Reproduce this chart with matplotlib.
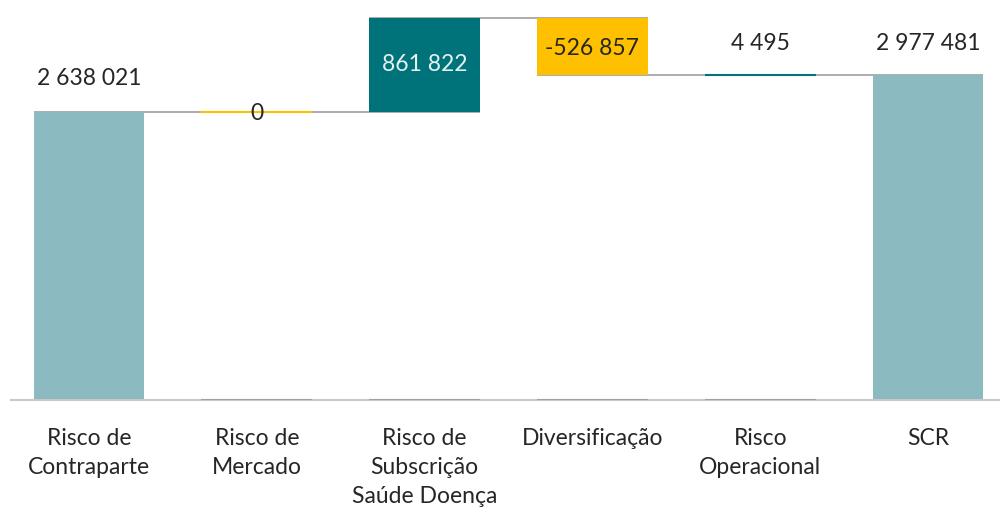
import matplotlib.pyplot as plt

# dados do gráfico (cascata SCR)
categorias = ["Risco de\nContraparte", "Risco de\nMercado", "Risco de\nSubscrição\nSaúde Doença",
              "Diversificação", "Risco\nOperacional", "SCR"]
valores = [2638021, 0, 861822, -526857, 4495, 2977481]
rotulos = ["2 638 021", "0", "861 822", "-526 857", "4 495", "2 977 481"]
tipo = ["total", "delta", "delta", "delta", "delta", "total"]

plt.rcParams['font.family'] = ['Lato', 'DejaVu Sans']

fig = plt.figure(figsize=(10, 5.13), dpi=100)
ax = fig.add_axes([0.011, 0.2203, 0.989, 0.7797])

cor_total = "#8BBAC0"
cor_pos = "#00737A"
cor_neg = "#FFC000"
cinza = "#A6A6A6"
largura = 0.66

# bases e topos
acumulado = 0
bases, topos = [], []
for v, t in zip(valores, tipo):
    if t == "total":
        bases.append(0)
        acumulado = v
        topos.append(v)
    else:
        bases.append(min(acumulado, acumulado + v))
        acumulado += v
        topos.append(acumulado)

x = list(range(len(valores)))

# linhas de ligação
for i in range(len(valores) - 1):
    ax.hlines(topos[i], i - largura / 2, i + 1 + largura / 2, color=cinza, lw=1.3, zorder=1)

for i, (v, t) in enumerate(zip(valores, tipo)):
    if t == "total":
        cor = cor_total
    elif v > 0:
        cor = cor_pos
    else:
        cor = cor_neg
    altura = abs(v)
    ax.bar(i, altura, largura, bottom=bases[i], color=cor, zorder=2,
           edgecolor=cor if altura < 20000 else "none", linewidth=1.5)
    if t != "total":
        ax.hlines(0, i - largura / 2, i + largura / 2, color="#A0A0A0", lw=1.5, zorder=3)

# rótulos de dados
fs = 16.5
ax.annotate(rotulos[0], (0, topos[0]), xytext=(0, 33), textcoords="offset pixels",
            ha="center", va="center", fontsize=fs, color="#262626")
ax.annotate(rotulos[1], (1, topos[1]), xytext=(0, -2), textcoords="offset pixels",
            ha="center", va="center", fontsize=fs, color="#262626", zorder=4)
ax.annotate(rotulos[2], (2, bases[2]), xytext=(0, 47), textcoords="offset pixels",
            ha="center", va="center", fontsize=fs, color="#E6F2F2")
ax.annotate(rotulos[3], (3, bases[3]), xytext=(0, 27), textcoords="offset pixels",
            ha="center", va="center", fontsize=fs, color="#262626")
ax.annotate(rotulos[4], (4, topos[4]), xytext=(0, 31), textcoords="offset pixels",
            ha="center", va="center", fontsize=fs, color="#262626")
ax.annotate(rotulos[5], (5, topos[5]), xytext=(0, 31), textcoords="offset pixels",
            ha="center", va="center", fontsize=fs, color="#262626")

ax.set_xlim(-0.465, 5.429)
ax.set_ylim(0, 3660000)
ax.set_xticks(x)
ax.set_xticklabels(categorias, fontsize=fs, color="#262626", linespacing=1.47)
ax.tick_params(axis="x", length=0, pad=20)
ax.set_yticks([])
for lado in ["top", "right", "left"]:
    ax.spines[lado].set_visible(False)
ax.spines["bottom"].set_color("#C8C8C8")
ax.spines["bottom"].set_linewidth(1.5)

fig.savefig("out.png", dpi=100)
